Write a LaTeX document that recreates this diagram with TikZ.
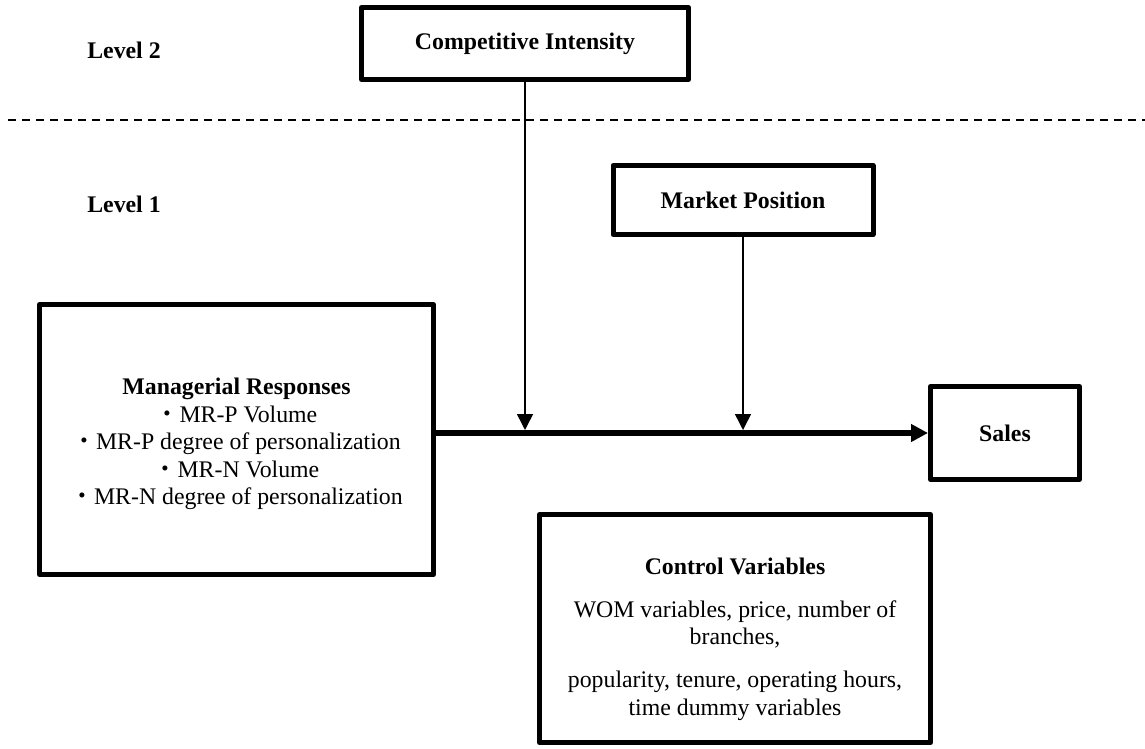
\documentclass[tikz,border=0pt]{standalone}
\usepackage{fontspec}
\setmainfont{Liberation Serif}
\newfontfamily\cjk{Noto Sans CJK JP}
\usetikzlibrary{arrows.meta}

\begin{document}
\begin{tikzpicture}[x=0.5pt,y=-0.5pt]
        \tikzstyle{main node}=[draw,line width=2.5pt,line join=round,inner sep=0pt,align=center,font=\fontsize{11.9}{13.75}\selectfont]
        \tikzstyle{level node}=[font=\fontsize{11.9}{13.75}\selectfont\bfseries]
        \tikzstyle{mod arrow}=[line width=0.75pt,-{Triangle[length=8pt,width=8pt]},shorten >=1.5pt]
        \useasboundingbox (0,0) rectangle (1145,749);

        \node[level node] (L2) at (124,50) {Level 2};
        \node[level node] (L1) at (124,204) {Level 1};

        \node[main node,minimum width=163.5pt,minimum height=36pt] (CI) at (525,43.5) {\textbf{Competitive Intensity}};
        \node[main node,minimum width=130pt,minimum height=34.5pt] (MP) at (743,200) {\textbf{Market Position}};
        \node[main node,minimum width=197pt,minimum height=135pt] (MR) at (236.5,439.5)
            {\rule{0pt}{13pt}\textbf{Managerial Responses}\\{\cjk ・}MR-P Volume\\{\cjk ・}MR-P degree of personalization\\{\cjk ・}MR-N Volume\\{\cjk ・}MR-N degree of personalization};
        \node[main node,minimum width=74.5pt,minimum height=46.5pt] (S) at (1005,433) {\textbf{Sales}};
        \node[main node,minimum width=195.5pt,minimum height=114pt] (CV) at (735,628.5)
            {\rule{0pt}{19pt}\textbf{Control Variables}\\[7.75pt]WOM variables, price, number of\\branches,\\[7.75pt]popularity, tenure, operating hours,\\time dummy variables};

        % level separator
        \coordinate (DL) at (8,120);
        \coordinate (DR) at (1145,120);
        \draw[line width=1pt,dash pattern=on 4pt off 3pt] (DL) -- (DR);

        \draw[line width=3pt,-{Triangle[length=8.5pt,width=8.5pt]}] (MR.east |- S.west) -- (S.west);
        \draw[mod arrow] (CI.south) -- (CI.south |- S.west);
        \draw[mod arrow] (MP.south) -- (MP.south |- S.west);
    \end{tikzpicture}
\end{document}
